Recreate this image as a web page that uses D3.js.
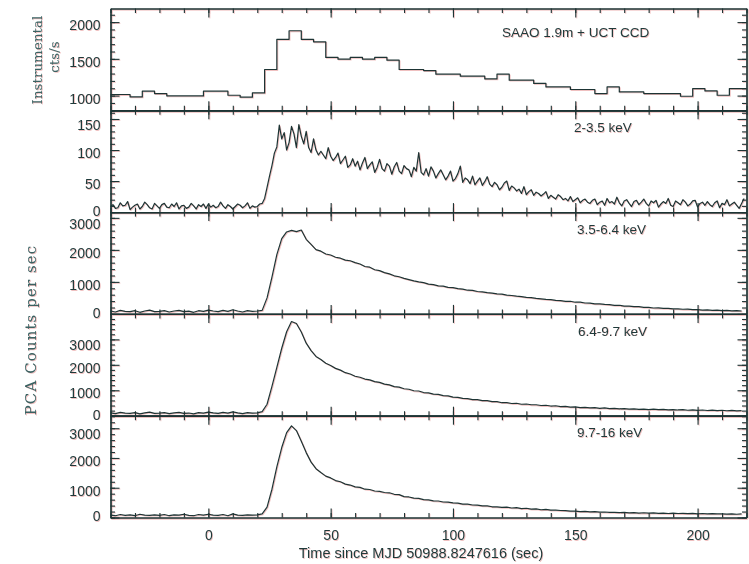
<!DOCTYPE html>
<html>
<head>
<meta charset="utf-8">
<script src="https://cdn.jsdelivr.net/npm/d3@7"></script>
<style>
  body { margin: 0; background: #fff; }
  svg { display: block; }
</style>
</head>
<body>
<div id="chart"></div>
<script>
// ---- data ----

// optical light curve, 5 s bins (bin start times, s)
var optTime = d3.range(-42, 223, 5);
var optRate = [1015, 1015, 982, 1060, 1028, 995, 995, 995, 1060, 1060,
               1005, 978, 1036, 1355, 1765, 1882, 1765, 1732, 1520, 1496,
               1520, 1496, 1520, 1482, 1355, 1355, 1340, 1291, 1291, 1264,
               1264, 1227, 1291, 1210, 1210, 1165, 1118, 1118, 1083, 1083,
               1028, 1118, 1050, 1050, 1028, 1028, 1028, 991, 1096, 1064,
               1005, 1096, 1096];

// 2-3.5 keV, 1 s bins
var softTime = d3.range(-40, 220, 1);
var soft = [9, 12, 6, 7, 15, 10, 11, 17, 4, 8,
            11, 13, 5, 9, 16, 12, 7, 5, 14, 10,
            6, 12, 14, 8, 7, 13, 9, 15, 5, 10,
            11, 6, 8, 14, 10, 5, 12, 9, 13, 6,
            13, 8, 11, 7, 9, 16, 10, 6, 12, 9,
            5, 9, 13, 11, 7, 10, 15, 6, 10, 8,
            9, 13, 14, 22, 40, 58, 75, 95, 105, 140,
            118, 128, 100, 112, 138, 126, 104, 141, 122, 110,
            130, 104, 96, 118, 100, 92,
            98, 92, 86, 104, 90, 83, 88, 95, 78, 84,
            90, 72, 76, 86, 74, 82, 68, 79, 88, 70,
            76, 81, 64, 72, 85, 70, 66, 78, 74, 61,
            73, 80, 66, 62, 75, 70, 68, 57, 72, 66,
            96, 64, 60, 70, 58, 73, 66, 55, 62, 68,
            60, 52, 58, 66, 50, 54, 62, 74, 48, 55,
            52, 46, 58, 44, 50, 55, 43, 49, 57, 45,
            41, 48, 44, 36, 40, 47, 50, 35, 42, 39,
            34, 37, 30, 41, 28, 33, 36, 27, 32, 30,
            26, 29, 33, 22, 27, 24, 21, 28, 25, 20,
            22, 18, 25, 17, 20, 23, 15, 19, 21, 16,
            14, 19, 21, 12, 16, 18, 11, 22, 15, 17,
            13, 24, 15, 10, 18, 20, 14, 9, 17, 19,
            12, 16, 21, 14, 10, 18, 15, 19, 8, 13,
            17, 14, 22, 11, 9, 18, 15, 12, 20, 16,
            10, 13, 18, 19, 8, 14, 16, 11, 17, 12,
            9, 15, 18, 7, 14, 12, 20, 10, 13, 16,
            11, 6, 14, 22];

// PCA bands, 2 s bins
var pcaTime = d3.range(-40, 220, 2);
var band36 = [90, 60, 110, 80, 70, 100, 50, 90, 120, 70,
              80, 100, 60, 90, 110, 70, 85, 50, 100, 80,
              120, 90, 70, 110, 80, 130, 90, 60, 100, 80,
              90, 110, 500, 1150, 1850, 2350, 2560, 2610, 2570, 2620,
              2330, 2170, 2010, 1960, 1870, 1840, 1770, 1740, 1680, 1660,
              1600, 1560, 1480, 1460, 1380, 1350, 1290, 1250, 1190, 1160,
              1110, 1070, 1030, 1000, 975, 930, 915, 875, 865, 830,
              820, 790, 775, 740, 735, 700, 690, 665, 650, 625,
              615, 585, 575, 555, 540, 515, 510, 485, 470, 455,
              445, 425, 415, 390, 395, 365, 365, 340, 335, 315,
              315, 295, 290, 265, 270, 245, 245, 225, 225, 205,
              205, 185, 190, 170, 175, 155, 160, 145, 150, 135,
              135, 120, 125, 110, 115, 100, 110, 95, 105, 90];
var band69 = [110, 80, 130, 100, 90, 120, 70, 110, 140, 90,
              100, 120, 80, 110, 130, 90, 105, 70, 120, 100,
              140, 110, 90, 130, 100, 150, 110, 80, 120, 100,
              110, 160, 450, 1150, 1900, 2650, 3300, 3700, 3620, 3290,
              2850, 2560, 2330, 2210, 2060, 1970, 1860, 1790, 1690, 1640,
              1550, 1510, 1440, 1410, 1340, 1310, 1240, 1210, 1140, 1120,
              1060, 1040, 980, 970, 910, 900, 850, 840, 790, 780,
              730, 720, 680, 670, 630, 630, 590, 590, 550, 550,
              510, 515, 480, 490, 450, 460, 430, 430, 400, 410,
              380, 390, 360, 370, 340, 350, 320, 330, 310, 315,
              290, 305, 280, 290, 270, 280, 260, 270, 250, 260,
              240, 255, 235, 245, 230, 240, 225, 235, 215, 230,
              210, 225, 205, 220, 200, 215, 195, 210, 190, 200];
var band916 = [80, 60, 100, 70, 90, 60, 110, 80, 70, 90,
               70, 100, 60, 90, 80, 110, 70, 60, 100, 80,
               110, 80, 70, 100, 60, 120, 80, 70, 90, 80,
               90, 120, 350, 950, 1700, 2350, 2850, 3080, 2920, 2560,
               2180, 1860, 1640, 1510, 1390, 1330, 1240, 1200, 1120, 1090,
               1030, 1010, 950, 940, 890, 880, 840, 830, 780, 770,
               700, 690, 650, 640, 600, 590, 560, 555, 520, 515,
               490, 480, 450, 450, 420, 415, 390, 390, 360, 360,
               340, 350, 320, 330, 300, 310, 280, 290, 260, 270,
               250, 245, 235, 230, 215, 215, 200, 205, 190, 195,
               180, 185, 170, 175, 165, 170, 155, 165, 150, 160,
               145, 155, 140, 150, 135, 145, 135, 140, 130, 140,
               125, 135, 120, 130, 120, 125, 115, 125, 110, 120];

var xTicks = [0, 50, 100, 150, 200];
var optTicks = [1000, 1500, 2000];
var softTicks = [0, 50, 100, 150];
var pcaTicks = [0, 1000, 2000, 3000];
var panelLabels = ["SAAO 1.9m + UCT CCD", "2-3.5 keV", "3.5-6.4 keV", "6.4-9.7 keV", "9.7-16 keV"];

// ---- layout ----
var W = 749, H = 564;
var left = 110.5, right = 746.5, top0 = 8.5, panelH = 101.8;
var ink = "#1d3434", textInk = "#1f3a3a", titleInk = "#3b6262";
var sans = "'Liberation Sans', Arial, sans-serif";

var x = d3.scaleLinear().domain([-40, 220]).range([left, right]);

var panels = [
  {t: optTime, v: optRate, domain: [800, 2185], ticks: optTicks, minor: 100, step: true, lx: 502, ly: 24},
  {t: softTime, v: soft, domain: [0, 164], ticks: softTicks, minor: 10, lx: 574, ly: 17},
  {t: pcaTime, v: band36, domain: [0, 3180], ticks: pcaTicks, minor: 200, lx: 577, ly: 17},
  {t: pcaTime, v: band69, domain: [0, 4000], ticks: pcaTicks, minor: 200, lx: 578, ly: 17},
  {t: pcaTime, v: band916, domain: [0, 3420], ticks: pcaTicks, minor: 200, lx: 577, ly: 17}
];

var svg = d3.select("#chart").append("svg")
    .attr("width", W)
    .attr("height", H);

var defs = svg.append("defs");
panels.forEach(function(p, i) {
  defs.append("clipPath").attr("id", "clip" + i)
    .append("rect")
    .attr("x", left).attr("y", top0 + i * panelH)
    .attr("width", right - left).attr("height", panelH);
});

var xMinor = d3.range(-40, 221, 10);

function styleAxis(g, col, tcol) {
  g.select(".domain").attr("stroke", col).attr("stroke-width", 1.2);
  g.selectAll(".tick line").attr("stroke", col).attr("stroke-width", 1.1);
  g.selectAll(".tick text")
    .attr("fill", tcol)
    .attr("font-family", sans)
    .attr("font-size", 14);
}

function drawAll(root, col, tcol, ttcol) {
  var fmt = d3.format("d");
  panels.forEach(function(p, i) {
    var y0 = top0 + i * panelH, y1 = y0 + panelH;
    var y = d3.scaleLinear().domain(p.domain).range([y1, y0]);
    var yMinor = d3.range(Math.ceil(p.domain[0] / p.minor) * p.minor, p.domain[1], p.minor);
    var topTick = p.ticks[p.ticks.length - 1];
    var g = root.append("g");

    // left axis with labels (labels sit a little below their ticks, as in the print)
    g.append("g").attr("transform", "translate(" + left + ",0)")
      .call(d3.axisLeft(y).tickValues(p.ticks).tickSize(-9).tickSizeOuter(0)
        .tickPadding(10).tickFormat(fmt))
      .call(styleAxis, col, tcol)
      .selectAll(".tick text")
      .attr("y", function(d) { return d === 0 ? -1 : (d === topTick && i > 0 ? 6 : 3); });
    g.append("g").attr("transform", "translate(" + left + ",0)")
      .call(d3.axisLeft(y).tickValues(yMinor).tickSize(-4.5).tickSizeOuter(0).tickFormat(""))
      .call(styleAxis, col, tcol);

    // right axis
    g.append("g").attr("transform", "translate(" + right + ",0)")
      .call(d3.axisRight(y).tickValues(p.ticks).tickSize(-9).tickSizeOuter(0).tickFormat(""))
      .call(styleAxis, col, tcol);
    g.append("g").attr("transform", "translate(" + right + ",0)")
      .call(d3.axisRight(y).tickValues(yMinor).tickSize(-4.5).tickSizeOuter(0).tickFormat(""))
      .call(styleAxis, col, tcol);

    // top axis
    g.append("g").attr("transform", "translate(0," + y0 + ")")
      .call(d3.axisTop(x).tickValues(xTicks).tickSize(-9).tickSizeOuter(0).tickFormat(""))
      .call(styleAxis, col, tcol);
    g.append("g").attr("transform", "translate(0," + y0 + ")")
      .call(d3.axisTop(x).tickValues(xMinor).tickSize(-4.5).tickSizeOuter(0).tickFormat(""))
      .call(styleAxis, col, tcol);

    // bottom axis (labels only on the last panel)
    var bx = d3.axisBottom(x).tickValues(xTicks).tickSize(-9).tickSizeOuter(0)
      .tickPadding(13).tickFormat(i === panels.length - 1 ? fmt : "");
    g.append("g").attr("transform", "translate(0," + y1 + ")")
      .call(bx)
      .call(styleAxis, col, tcol);
    g.append("g").attr("transform", "translate(0," + y1 + ")")
      .call(d3.axisBottom(x).tickValues(xMinor).tickSize(-4.5).tickSizeOuter(0).tickFormat(""))
      .call(styleAxis, col, tcol);

    // light curve
    var pts = p.t.map(function(t, k) { return [t, p.v[k]]; });
    if (p.step) pts.push([p.t[p.t.length - 1] + 5, p.v[p.v.length - 1]]);
    var line = d3.line()
      .x(function(d) { return x(d[0]); })
      .y(function(d) { return y(d[1]); })
      .curve(p.step ? d3.curveStepAfter : d3.curveLinear);
    g.append("path")
      .datum(pts)
      .attr("clip-path", "url(#clip" + i + ")")
      .attr("fill", "none")
      .attr("stroke", col)
      .attr("stroke-width", 1.2)
      .attr("stroke-linejoin", "round")
      .attr("d", line);

    // band label
    g.append("text")
      .attr("x", p.lx)
      .attr("y", y0 + p.ly)
      .attr("dy", "0.35em")
      .attr("fill", tcol)
      .attr("font-family", sans)
      .attr("font-size", 13.5)
      .text(panelLabels[i]);
  });

  // axis titles
  root.append("text")
    .attr("x", 421).attr("y", 558)
    .attr("text-anchor", "middle")
    .attr("fill", tcol)
    .attr("font-family", sans)
    .attr("font-size", 14.5)
    .text("Time since MJD 50988.8247616 (sec)");

  var serif = "'DejaVu Serif', serif";
  root.append("text")
    .attr("transform", "translate(37,60) rotate(-90)")
    .attr("text-anchor", "middle").attr("dy", "0.35em")
    .attr("fill", ttcol).attr("font-family", serif).attr("font-size", 13.5)
    .text("Instrumental");
  root.append("text")
    .attr("transform", "translate(54,57) rotate(-90)")
    .attr("text-anchor", "middle").attr("dy", "0.35em")
    .attr("fill", ttcol).attr("font-family", serif).attr("font-size", 13.5)
    .text("cts/s");
  root.append("text")
    .attr("transform", "translate(31,330) rotate(-90)")
    .attr("text-anchor", "middle").attr("dy", "0.35em")
    .attr("fill", ttcol).attr("font-family", serif).attr("font-size", 15)
    .attr("letter-spacing", 1.1)
    .text("PCA Counts per sec");
}

// faint red misregistration seen in the scan, then the main drawing
var ghost = svg.append("g").attr("transform", "translate(0.8,0.8)").attr("opacity", 0.35);
drawAll(ghost, "#d24a4a", "#d24a4a", "#d24a4a");
drawAll(svg.append("g"), ink, textInk, titleInk);
</script>
</body>
</html>
